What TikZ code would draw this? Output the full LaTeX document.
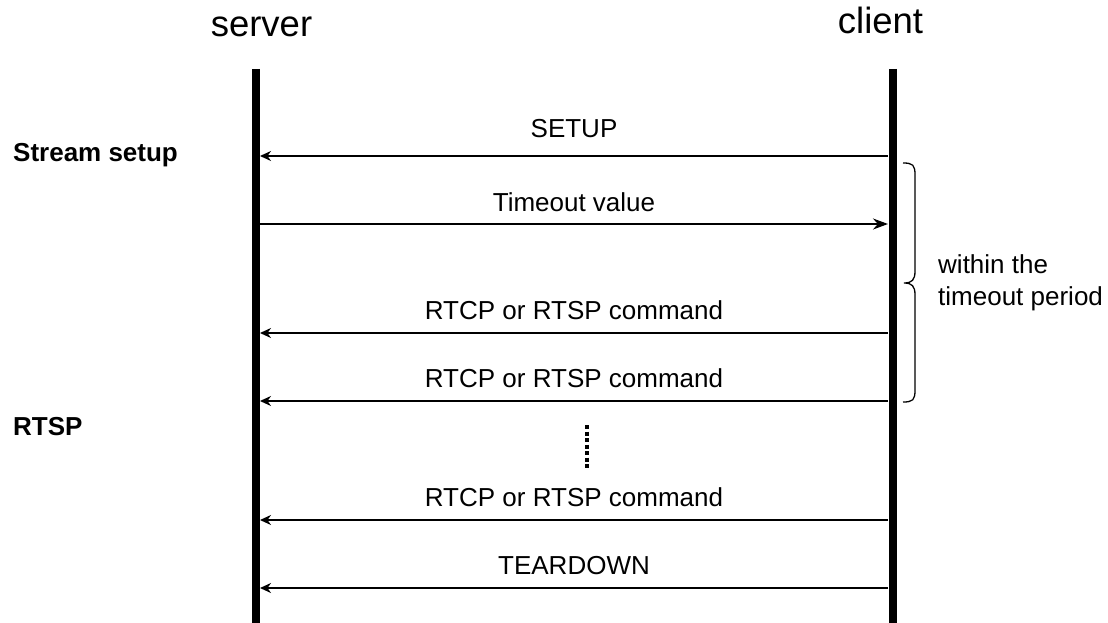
\documentclass[tikz,border=0pt]{standalone}
\usepackage{fontspec}
\setmainfont{Liberation Sans}
\usetikzlibrary{arrows.meta,positioning,calc}
\tikzset{>={Stealth[length=11pt,width=10pt]},
         lifeline/.style={line width=8pt},
         msg/.style={->,line width=2.8pt},
         reply/.style={-{Stealth[length=15pt,width=11pt]},line width=1.8pt},
         msglabel/.style={anchor=base,inner sep=0pt,yshift=14pt,
                          font=\fontsize{26}{31}\selectfont},
         party/.style={anchor=base,inner sep=0pt,font=\fontsize{36.5}{44}\selectfont},
         phase/.style={anchor=base west,inner sep=0pt,
                       font=\fontsize{26}{31}\selectfont\bfseries}}

\begin{document}
\begin{tikzpicture}[x=1pt,y=-1pt]
  \useasboundingbox (0,0) rectangle (1108,623);
  % the two parties
  \node[party] (srv) at (261.5,37) {server};
  \node[party] (clt) at (880.5,34) {client};
  \coordinate (srvtop) at (256,69);
  \coordinate (srvbot) at (256,623);
  \coordinate (clttop) at (892.5,69);
  \coordinate (cltbot) at (892.5,623);
  \draw[lifeline] (srvtop) -- (srvbot);
  \draw[lifeline] (clttop) -- (cltbot);
  % message rows
  \foreach \y/\name in {156/setup,224/timeout,333/cmda,401/cmdb,520/cmdc,588/teardown}
    {\coordinate (s-\name) at (260,\y);
     \coordinate (c-\name) at (888,\y);}
  \path[msg] (c-setup) edge node[msglabel,yshift=4pt] {SETUP} (s-setup)
             (c-cmda) edge node[msglabel] {RTCP or RTSP command} (s-cmda)
             (c-cmdb) edge node[msglabel] {RTCP or RTSP command} (s-cmdb)
             (c-cmdc) edge node[msglabel] {RTCP or RTSP command} (s-cmdc)
             (c-teardown) edge node[msglabel] {TEARDOWN} (s-teardown);
  \path[reply] (s-timeout) edge node[msglabel,yshift=-1pt] {Timeout value} (c-timeout);
  % more commands
  \coordinate (dotstop) at (587,425);
  \coordinate (dotsbot) at (587,469);
  \draw[line width=4.5pt,dash pattern=on 4pt off 2.5pt] (dotstop) -- (dotsbot);
  % phases
  \node[phase] (setupph) at (13,161) {Stream setup};
  \node[phase] (rtspph) at (13,435) {RTSP};
  % timeout brace
  \coordinate (brtop) at (903,163);
  \coordinate (brmid) at (904,283);
  \coordinate (brbot) at (903,402);
  \draw[line width=1.3pt]
    (brtop) .. controls (913,163) and (915,165) .. (915,175) -- (915,271)
    .. controls (915,280) and (912,283) .. (brmid)
    .. controls (912,283) and (915,286) .. (915,295) -- (915,390)
    .. controls (915,400) and (913,402) .. (brbot);
  \node[anchor=west,inner sep=0pt,align=left,font=\fontsize{26}{32}\selectfont]
    (note) at (938,283) {within the\\timeout period};
\end{tikzpicture}
\end{document}
